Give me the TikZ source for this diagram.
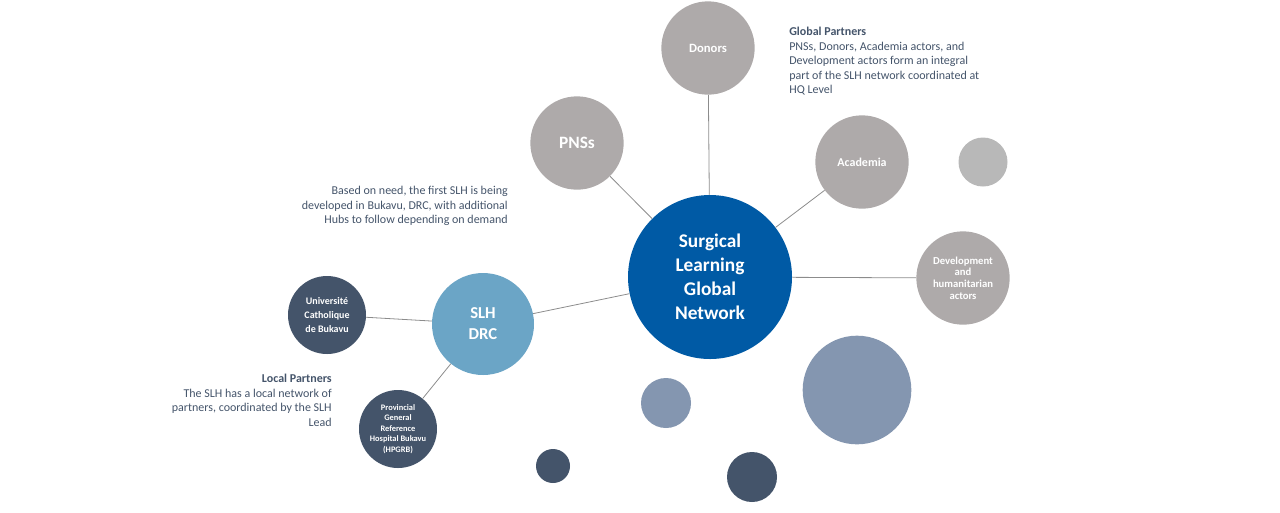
\documentclass[tikz,border=0pt]{standalone}
\usepackage{fontspec}
\setmainfont{Carlito}
\definecolor{hubblue}{HTML}{005AA5}
\definecolor{slhblue}{HTML}{6BA5C6}
\definecolor{partgrey}{HTML}{AEAAAA}
\definecolor{lightgrey}{HTML}{B8B8B8}
\definecolor{slate}{HTML}{44546A}
\definecolor{slatelt}{HTML}{8496B0}
\definecolor{linkgrey}{HTML}{8C8C8C}

\begin{document}
\begin{tikzpicture}[x=0.75pt, y=-0.75pt,
	bubble/.style={circle, inner sep=0pt, text=white, font=\bfseries, align=center},
	link/.style={linkgrey, line width=0.6pt},
	note/.style={inner sep=0pt, text=slate}]

	\useasboundingbox (0, 0) rectangle (1280, 512);

	% global network
	\node[bubble, fill=hubblue, minimum size=123pt, font=\bfseries\fontsize{14.5}{18}\selectfont] (hub) at (710, 277) {Surgical\\Learning\\Global\\Network};

	\node[bubble, fill=partgrey, minimum size=70pt, font=\bfseries\fontsize{9.5}{11}\selectfont] (donors) at (708, 48) {Donors};
	\node[bubble, fill=partgrey, minimum size=70pt, font=\bfseries\fontsize{13}{15}\selectfont] (pnss) at (577, 143) {PNSs};
	\node[bubble, fill=partgrey, minimum size=70pt, font=\bfseries\fontsize{9}{11}\selectfont] (academia) at (862, 162) {Academia};
	\node[bubble, fill=partgrey, minimum size=70pt, font=\bfseries\fontsize{8}{8.7}\selectfont] (devel) at (963, 278) {Development\\and\\humanitarian\\actors};
	\node[bubble, fill=lightgrey, minimum size=36.75pt] (greydot) at (983, 162) {};

	% local hub
	\node[bubble, fill=slhblue, minimum size=76.5pt, font=\bfseries\fontsize{12.5}{15.75}\selectfont] (slh) at (483, 324) {SLH\\DRC};
	\node[bubble, fill=slate, minimum size=58.5pt, font=\bfseries\fontsize{7.5}{10.3}\selectfont] (ucb) at (327, 315) {Université\\Catholique\\de Bukavu};
	\node[bubble, fill=slate, minimum size=58.5pt, font=\bfseries\fontsize{6.3}{7.8}\selectfont] (hpgrb) at (398, 429) {Provincial\\General\\Reference\\Hospital Bukavu\\(HPGRB)};

	% loose bubbles
	\node[bubble, fill=slatelt, minimum size=81.5pt] (bigdot) at (857, 390) {};
	\node[bubble, fill=slatelt, minimum size=37.5pt] (middot) at (666, 403) {};
	\node[bubble, fill=slate, minimum size=25.5pt] (smalldot) at (553, 466) {};
	\node[bubble, fill=slate, minimum size=37.5pt] (darkdot) at (752, 477) {};

	\draw[link] (hub) -- (donors);
	\draw[link] (hub) -- (pnss);
	\draw[link] (hub) -- (academia);
	\draw[link] (hub) -- (devel);
	\draw[link] (hub) -- (slh);
	\draw[link] (slh) -- (ucb);
	\draw[link] (slh) -- (hpgrb);

	% notes
	\node[note, anchor=north west, align=left, font=\fontsize{9}{10.9}\selectfont] (globalnote) at (789, 27) {\textbf{Global Partners}\\PNSs, Donors, Academia actors, and\\Development actors form an integral\\part of the SLH network coordinated at\\HQ Level};
	\node[note, anchor=north east, align=right, font=\fontsize{9}{10.9}\selectfont] (neednote) at (508, 186) {Based on need, the first SLH is being\\developed in Bukavu, DRC, with additional\\Hubs to follow depending on demand};
	\node[note, anchor=north east, align=right, font=\fontsize{9}{10.9}\selectfont] (localnote) at (332, 374) {\textbf{Local Partners}\\The SLH has a local network of\\partners, coordinated by the SLH\\Lead};
\end{tikzpicture}
\end{document}
